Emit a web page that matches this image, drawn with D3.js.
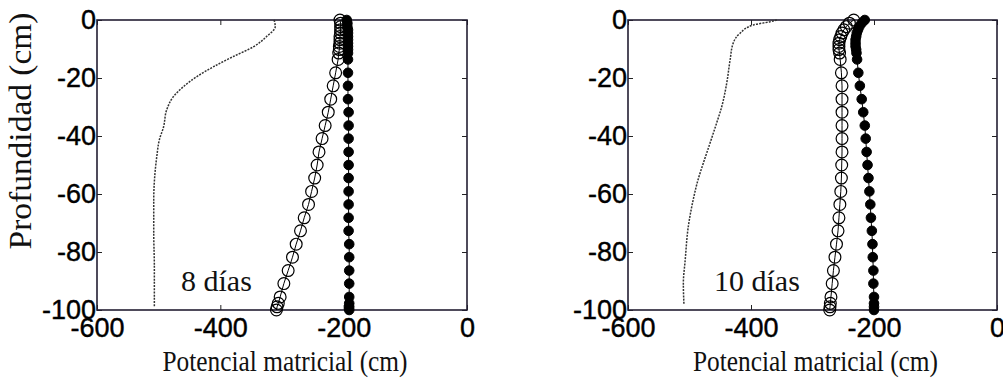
<!DOCTYPE html>
<html>
<head>
<meta charset="utf-8">
<script src="https://cdn.jsdelivr.net/npm/d3@7"></script>
<style>
  html, body { margin: 0; padding: 0; background: #fff; }
  svg { display: block; }
  .tick text { font-family: "Liberation Sans", Arial, sans-serif; font-size: 27px; fill: #000; stroke: #000; stroke-width: 0.4; }
  .tick line { stroke: #222; stroke-width: 1; }
  .domain { display: none; }
  .lbl { font-family: "Liberation Serif", "Times New Roman", serif; fill: #111; }
</style>
</head>
<body>
<div id="chart"></div>
<script>
// depth nodes shared by the two marker series (cm)
const depthNodes = [0, -1.1, -2.3, -3.4, -4.5, -5.7, -6.8, -8.0, -9.1, -10.2, -11.4, -13.6,
  -18.2, -22.7, -27.3, -31.8, -36.4, -40.9, -45.5, -50.0, -54.5, -59.1, -63.6, -68.2,
  -72.7, -77.3, -81.8, -86.4, -90.9, -95.5, -97.7, -98.9, -100];

// 8 days
const openL = [-206, -205, -205, -205, -205, -206, -206, -206, -207, -207, -208, -209,
  -213, -217, -221, -225, -230, -235, -240, -243, -247, -252, -257, -264,
  -270, -277, -283, -290, -297, -303, -306, -308, -309];
const fullL = [-195, -194, -194, -193, -193, -193, -193, -193, -193, -193, -193, -193,
  -193, -193, -193, -192, -192, -192, -192, -192, -192, -192, -192, -192,
  -192, -191, -191, -191, -191, -191, -191, -191, -191];
const lineDepthL = [0, -0.6, -2.3, -5.7, -9.2, -12.6, -16.1, -19.5, -23, -26.4, -31, -36.8,
  -41.4, -47, -52.9, -62, -73.6, -85, -99];
const lineValL = [-313, -312, -311, -325, -346, -379, -411, -438, -460, -476, -487, -492,
  -499, -503, -506, -508, -508, -507, -507];

// 10 days
const openR = [-233, -240, -245, -249, -252, -254, -256, -257, -257, -257, -256, -255,
  -253, -252, -252, -252, -252, -252, -252, -252.5, -253, -254, -255.5, -257,
  -258.5, -261, -263.5, -266, -268, -270, -271, -271.5, -272];
const fullR = [-215, -220, -224, -226, -228, -229, -230, -230, -230, -229, -228.5, -227.5,
  -225.5, -223, -220, -217.5, -215, -213.5, -212, -210.5, -209, -207.5, -206, -205,
  -203.5, -202.5, -202, -201, -201, -200, -200, -200, -200];
const lineDepthR = [0, -0.6, -1.7, -4.6, -8, -13.8, -21.8, -29.9, -35.6, -42.5, -49.4, -55,
  -62, -71.3, -82.8, -90.8, -98.3];
const lineValR = [-358, -369, -396, -418, -429, -434, -439.5, -447.6, -456, -466.7, -477.6, -486,
  -494, -502, -507, -510, -509];

const xTicks = [-600, -400, -200, 0];
const yTicks = [0, -20, -40, -60, -80, -100];
const panelLabels = ['8 días', '10 días'];
const xTitle = 'Potencial matricial (cm)';
const yTitle = 'Profundidad (cm)';

const width = 1003, height = 379;
const svg = d3.select('#chart').append('svg').attr('width', width).attr('height', height);

function drawPanel(o) {
  const x = d3.scaleLinear().domain([-600, 0]).range([o.left, o.right]);
  const y = d3.scaleLinear().domain([-100, 0]).range([310, 20]);
  const g = svg.append('g');
  const noLabel = () => '';

  g.append('g').attr('transform', 'translate(0,310)')
    .call(d3.axisBottom(x).tickValues(xTicks).tickSize(-5).tickPadding(8).tickFormat(d => String(d)));
  g.append('g').attr('transform', 'translate(0,20)')
    .call(d3.axisTop(x).tickValues(xTicks).tickSize(-5).tickFormat(noLabel));
  g.append('g').attr('transform', 'translate(' + o.left + ',0)')
    .call(d3.axisLeft(y).tickValues(yTicks).tickSize(-5).tickPadding(1).tickFormat(d => String(d)));
  g.append('g').attr('transform', 'translate(' + o.right + ',0)')
    .call(d3.axisRight(y).tickValues(yTicks).tickSize(-5).tickFormat(noLabel));

  g.append('rect')
    .attr('x', o.left).attr('y', 20)
    .attr('width', o.right - o.left).attr('height', 290)
    .attr('fill', 'none').attr('stroke', '#231f33').attr('stroke-width', 1.6);

  const lineData = o.lineDepth.map((d, i) => [o.lineVal[i], d]);
  g.append('path')
    .attr('d', d3.line().x(d => x(d[0])).y(d => y(d[1])).curve(d3.curveMonotoneY)(lineData))
    .attr('fill', 'none').attr('stroke', '#333').attr('stroke-width', 1.5)
    .attr('stroke-dasharray', '2 1.2');

  const open = depthNodes.map((d, i) => [o.open[i], d]);
  const full = depthNodes.map((d, i) => [o.full[i], d]);
  const path = d3.line().x(d => x(d[0])).y(d => y(d[1]));

  g.append('path').attr('d', path(open)).attr('fill', 'none').attr('stroke', '#000').attr('stroke-width', 1);
  g.append('path').attr('d', path(full)).attr('fill', 'none').attr('stroke', '#000').attr('stroke-width', 1);

  g.selectAll('.open').data(open).enter().append('circle')
    .attr('class', 'open')
    .attr('cx', d => x(d[0])).attr('cy', d => y(d[1])).attr('r', 5.9)
    .attr('fill', 'none').attr('stroke', '#000').attr('stroke-width', 1.2);
  g.selectAll('.full').data(full).enter().append('circle')
    .attr('class', 'full')
    .attr('cx', d => x(d[0])).attr('cy', d => y(d[1])).attr('r', 4.8)
    .attr('fill', '#000').attr('stroke', '#000').attr('stroke-width', 1);

  g.append('text').attr('class', 'lbl')
    .attr('x', o.tagX).attr('y', 291).attr('font-size', 30)
    .text(o.tag);

  g.append('text').attr('class', 'lbl')
    .attr('x', (o.left + o.right) / 2 + 3).attr('y', 371)
    .attr('text-anchor', 'middle').attr('font-size', 30)
    .attr('textLength', 245).attr('lengthAdjust', 'spacingAndGlyphs')
    .text(xTitle);
}

drawPanel({ left: 97, right: 467, open: openL, full: fullL, lineDepth: lineDepthL, lineVal: lineValL, tag: panelLabels[0], tagX: 181 });
drawPanel({ left: 628, right: 997, open: openR, full: fullR, lineDepth: lineDepthR, lineVal: lineValR, tag: panelLabels[1], tagX: 714 });

svg.append('text').attr('class', 'lbl')
  .attr('transform', 'translate(31,131) rotate(-90)')
  .attr('text-anchor', 'middle').attr('font-size', 31)
  .attr('textLength', 237).attr('lengthAdjust', 'spacingAndGlyphs')
  .text(yTitle);
</script>
</body>
</html>
